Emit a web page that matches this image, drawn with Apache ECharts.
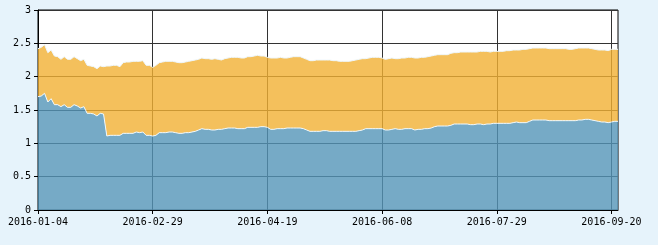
<!DOCTYPE html>
<html>
<head>
<meta charset="utf-8">
<script src="https://cdn.jsdelivr.net/npm/echarts@6/dist/echarts.min.js"></script>
<style>
html,body{margin:0;padding:0;background:#e6f3fb;}
#chart{width:658px;height:245px;}
</style>
</head>
<body>
<div id="chart"></div>
<script>
// Trading-day categories (2016-01-04 .. 2016-09-22)
const dates = [
"2016-01-04","2016-01-05","2016-01-06","2016-01-07","2016-01-08","2016-01-11","2016-01-12","2016-01-13","2016-01-14","2016-01-15",
"2016-01-18","2016-01-19","2016-01-20","2016-01-21","2016-01-22","2016-01-25","2016-01-26","2016-01-27","2016-01-28","2016-01-29",
"2016-02-01","2016-02-02","2016-02-03","2016-02-04","2016-02-05","2016-02-15","2016-02-16","2016-02-17","2016-02-18","2016-02-19",
"2016-02-22","2016-02-23","2016-02-24","2016-02-25","2016-02-26","2016-02-29",
"2016-03-01","2016-03-02","2016-03-03","2016-03-04","2016-03-07","2016-03-08","2016-03-09","2016-03-10","2016-03-11",
"2016-03-14","2016-03-15","2016-03-16","2016-03-17","2016-03-18","2016-03-21","2016-03-22","2016-03-23","2016-03-24","2016-03-25",
"2016-03-28","2016-03-29","2016-03-30","2016-03-31",
"2016-04-01","2016-04-05","2016-04-06","2016-04-07","2016-04-08","2016-04-11","2016-04-12","2016-04-13","2016-04-14","2016-04-15",
"2016-04-18","2016-04-19","2016-04-20","2016-04-21","2016-04-22","2016-04-25","2016-04-26","2016-04-27","2016-04-28","2016-04-29",
"2016-05-03","2016-05-04","2016-05-05","2016-05-06","2016-05-09","2016-05-10","2016-05-11","2016-05-12","2016-05-13",
"2016-05-16","2016-05-17","2016-05-18","2016-05-19","2016-05-20","2016-05-23","2016-05-24","2016-05-25","2016-05-26","2016-05-27",
"2016-05-30","2016-05-31",
"2016-06-01","2016-06-02","2016-06-03","2016-06-06","2016-06-07","2016-06-08","2016-06-13","2016-06-14","2016-06-15","2016-06-16",
"2016-06-17","2016-06-20","2016-06-21","2016-06-22","2016-06-23","2016-06-24","2016-06-27","2016-06-28","2016-06-29","2016-06-30",
"2016-07-01","2016-07-04","2016-07-05","2016-07-06","2016-07-07","2016-07-08","2016-07-11","2016-07-12","2016-07-13","2016-07-14",
"2016-07-15","2016-07-18","2016-07-19","2016-07-20","2016-07-21","2016-07-22","2016-07-25","2016-07-26","2016-07-27","2016-07-28",
"2016-07-29",
"2016-08-01","2016-08-02","2016-08-03","2016-08-04","2016-08-05","2016-08-08","2016-08-09","2016-08-10","2016-08-11","2016-08-12",
"2016-08-15","2016-08-16","2016-08-17","2016-08-18","2016-08-19","2016-08-22","2016-08-23","2016-08-24","2016-08-25","2016-08-26",
"2016-08-29","2016-08-30","2016-08-31",
"2016-09-01","2016-09-02","2016-09-05","2016-09-06","2016-09-07","2016-09-08","2016-09-09","2016-09-12","2016-09-13","2016-09-14",
"2016-09-19","2016-09-20","2016-09-21","2016-09-22"
];

// Lower (blue) series
const seriesA = [
1.70,1.71,1.75,1.62,1.67,1.58,1.58,1.55,1.58,1.54,
1.54,1.58,1.56,1.53,1.55,1.45,1.45,1.44,1.41,1.45,
1.44,1.11,1.12,1.12,1.12,1.12,1.15,1.15,1.15,1.15,
1.17,1.16,1.17,1.12,1.12,1.11,1.12,1.16,1.16,1.16,
1.17,1.17,1.16,1.15,1.15,1.16,1.16,1.17,1.18,1.20,
1.22,1.21,1.21,1.20,1.20,1.21,1.21,1.22,1.23,1.23,
1.23,1.22,1.22,1.22,1.24,1.24,1.24,1.24,1.25,1.25,
1.24,1.21,1.21,1.22,1.22,1.22,1.23,1.23,1.23,1.23,
1.23,1.22,1.20,1.18,1.18,1.18,1.18,1.19,1.19,1.18,
1.18,1.18,1.18,1.18,1.18,1.18,1.18,1.18,1.19,1.20,
1.22,1.22,1.22,1.22,1.22,1.22,1.20,1.20,1.21,1.22,
1.21,1.21,1.22,1.22,1.22,1.20,1.21,1.21,1.22,1.22,
1.23,1.25,1.26,1.26,1.26,1.26,1.27,1.29,1.29,1.29,
1.29,1.29,1.28,1.28,1.29,1.29,1.28,1.29,1.29,1.30,
1.30,1.30,1.30,1.30,1.30,1.31,1.32,1.31,1.31,1.31,
1.33,1.35,1.35,1.35,1.35,1.35,1.34,1.34,1.34,1.34,
1.34,1.34,1.34,1.34,1.34,1.35,1.35,1.36,1.36,1.35,
1.34,1.33,1.32,1.32,1.31,1.32,1.33,1.33
];

// Upper (orange) series, stacked on top of seriesA
const seriesB = [
0.72,0.73,0.73,0.74,0.73,0.73,0.72,0.71,0.72,0.72,
0.72,0.72,0.71,0.71,0.71,0.72,0.71,0.71,0.71,0.71,
0.71,1.05,1.04,1.05,1.05,1.03,1.06,1.07,1.07,1.08,
1.06,1.07,1.07,1.05,1.05,1.03,1.05,1.05,1.06,1.07,
1.06,1.06,1.06,1.06,1.06,1.06,1.07,1.07,1.07,1.06,
1.06,1.06,1.06,1.06,1.07,1.05,1.04,1.05,1.05,1.06,
1.06,1.07,1.06,1.06,1.06,1.06,1.07,1.08,1.06,1.06,
1.05,1.07,1.07,1.06,1.07,1.06,1.05,1.06,1.07,1.07,
1.07,1.06,1.06,1.06,1.06,1.07,1.07,1.06,1.06,1.07,
1.06,1.06,1.05,1.05,1.05,1.05,1.06,1.07,1.07,1.07,
1.05,1.06,1.07,1.07,1.07,1.06,1.06,1.07,1.07,1.05,
1.06,1.07,1.06,1.07,1.07,1.08,1.07,1.08,1.07,1.08,
1.08,1.07,1.07,1.07,1.07,1.07,1.08,1.07,1.07,1.08,
1.08,1.08,1.09,1.09,1.08,1.09,1.10,1.09,1.08,1.08,
1.08,1.08,1.08,1.09,1.09,1.09,1.08,1.09,1.10,1.10,
1.09,1.08,1.08,1.08,1.08,1.08,1.08,1.08,1.08,1.08,
1.08,1.08,1.07,1.07,1.08,1.08,1.08,1.07,1.07,1.07,
1.07,1.07,1.08,1.08,1.08,1.09,1.08,1.08
];

const yTicks = { min: 0, max: 3, step: 0.5 };

const chart = echarts.init(document.getElementById('chart'), null, { renderer: 'canvas' });
const labelFont = { fontFamily: 'DejaVu Sans Mono', fontSize: 10, color: '#000' };

chart.setOption({
  animation: false,
  backgroundColor: '#e6f3fb',
  grid: {
    left: 38, right: 40, top: 10, bottom: 35,
    show: true, backgroundColor: '#ffffff', borderColor: '#000', borderWidth: 1
  },
  xAxis: {
    type: 'category',
    data: dates,
    boundaryGap: false,
    axisLine: { show: true, lineStyle: { color: '#000', width: 1 } },
    axisTick: { show: true, interval: 34, length: 4, lineStyle: { color: '#000' } },
    axisLabel: Object.assign({ interval: 34, margin: 7 }, labelFont),
    splitLine: { show: true, interval: 34, lineStyle: { color: '#333', width: 1 } }
  },
  yAxis: {
    type: 'value',
    min: yTicks.min, max: yTicks.max, interval: yTicks.step,
    axisLine: { show: true, lineStyle: { color: '#000', width: 1 } },
    axisTick: { show: true, length: 4, lineStyle: { color: '#000' } },
    axisLabel: Object.assign({ margin: 7 }, labelFont),
    splitLine: { show: true, lineStyle: { color: '#333', width: 1 } }
  },
  series: [
    {
      type: 'line', stack: 'total', data: seriesA,
      showSymbol: false, symbol: 'none',
      lineStyle: { color: '#eef7fc', width: 1 },
      areaStyle: { color: '#5495b8', opacity: 0.8 }
    },
    {
      type: 'line', stack: 'total', data: seriesB,
      showSymbol: false, symbol: 'none',
      lineStyle: { color: '#eef7fc', width: 1 },
      areaStyle: { color: '#f1b033', opacity: 0.8 }
    }
  ]
});
</script>
</body>
</html>
